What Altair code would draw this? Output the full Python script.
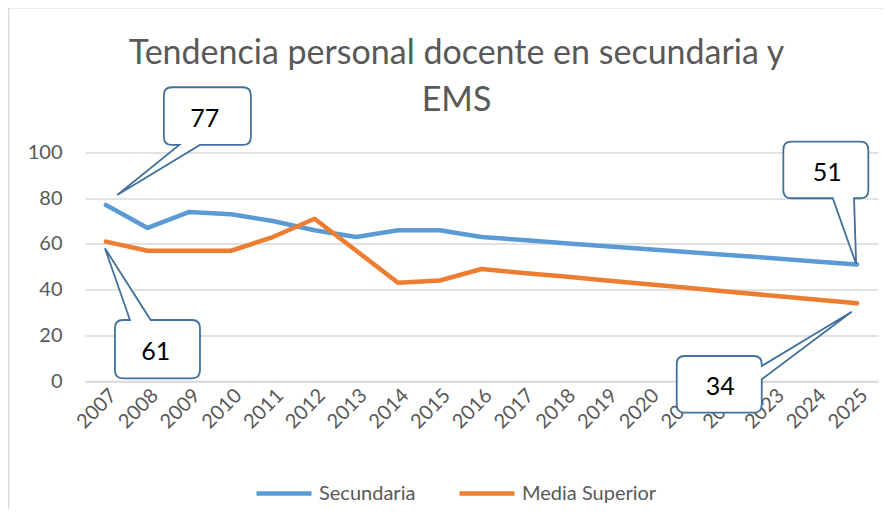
import altair as alt
import pandas as pd

# ---- data ----
years = [str(y) for y in range(2007, 2026)]
secundaria = [77, 67, 74, 73, 70, 66, 63, 66, 66, 63, 61.7, 60.3, 59, 57.7, 56.3, 55, 53.7, 52.3, 51]
media_superior = [61, 57, 57, 57, 63, 71, 57, 43, 44, 49, 47.3, 45.7, 44, 42.3, 40.7, 39, 37.3, 35.7, 34]
series_names = ["Secundaria", "Media Superior"]
series_colors = ["#5B9BD5", "#ED7D31"]

callout_series = ["Secundaria", "Media Superior", "Secundaria", "Media Superior"]
callout_years = ["2007", "2007", "2025", "2025"]
callout_labels = ["77", "61", "51", "34"]

TITLE = ["Tendencia personal docente en secundaria y", "EMS"]

# ---- styling ----
FONT = "Lato"
GRAY = "#595959"
GRID = "#d9d9d9"
CALLOUT_STROKE = "#41719C"
W, H = 793, 228.5

df = pd.DataFrame({
    "year": years * 2,
    "value": secundaria + media_superior,
    "serie": [series_names[0]] * len(years) + [series_names[1]] * len(years),
})

x_enc = alt.X("year:O", scale=alt.Scale(type="point", padding=0.5),
              axis=alt.Axis(title=None, labelAngle=-45, labelFontSize=20, labelColor=GRAY,
                            labelFont=FONT, ticks=False, domainColor=GRID, domainWidth=1.5,
                            labelPadding=4, grid=False))
y_enc = alt.Y("value:Q", scale=alt.Scale(domain=[0, 100], nice=False),
              axis=alt.Axis(title=None, values=[0, 20, 40, 60, 80, 100], labelFontSize=20,
                            labelColor=GRAY, labelFont=FONT, ticks=False, domain=False,
                            gridColor=GRID, gridWidth=1.5, labelPadding=23))

lines = alt.Chart(df).mark_line(strokeWidth=4.5, strokeCap="round", strokeJoin="round").encode(
    x=x_enc, y=y_enc,
    color=alt.Color("serie:N", scale=alt.Scale(domain=series_names, range=series_colors),
                    sort=series_names,
                    legend=alt.Legend(title=None, orient="none", legendX=169, legendY=311,
                                      direction="horizontal", symbolType="stroke",
                                      symbolSize=3025, symbolStrokeWidth=4.5,
                                      labelFontSize=20, labelColor=GRAY, labelFont=FONT,
                                      labelOffset=5, columnPadding=34, padding=0)),
)


def callout_path(box, edge, base, tip, r=8):
    x0, y0, x1, y1 = box
    def p(x, y):
        return f"{x:.1f},{y:.1f}"
    s = [f"M{p(x0 + r, y0)}"]
    if edge == "top":
        s += [f"L{p(base[0], y0)}", f"L{p(*tip)}", f"L{p(base[1], y0)}"]
    s += [f"L{p(x1 - r, y0)}", f"Q{p(x1, y0)} {p(x1, y0 + r)}"]
    if edge == "right":
        s += [f"L{p(x1, base[0])}", f"L{p(*tip)}", f"L{p(x1, base[1])}"]
    s += [f"L{p(x1, y1 - r)}", f"Q{p(x1, y1)} {p(x1 - r, y1)}"]
    if edge == "bottom":
        s += [f"L{p(base[1], y1)}", f"L{p(*tip)}", f"L{p(base[0], y1)}"]
    s += [f"L{p(x0 + r, y1)}", f"Q{p(x0, y1)} {p(x0, y1 - r)}",
          f"L{p(x0, y0 + r)}", f"Q{p(x0, y0)} {p(x0 + r, y0)}", "Z"]
    return " ".join(s)


# callout geometry relative to the data point (pixels)
callout_geom = [
    dict(box=(58, -117.8, 145, -60.1), edge="bottom", base=(73.4, 94.1), tip=(11.4, -10.1), text=(99, -86)),
    dict(box=(9.1, 78.4, 94.1, 136.7), edge="top", base=(24.1, 44.8), tip=(-0.9, 6.7), text=(50, 110)),
    dict(box=(-73.8, -122.8, 11.2, -66.2), edge="bottom", base=(-24.4, -3.1), tip=(-1, -0.5), text=(-30, -91)),
    dict(box=(-180.4, 52.7, -95.4, 109.4), edge="right", base=(62.7, 76), tip=(-5.4, 8.4), text=(-137, 84)),
]

values_by_series = dict(zip(series_names, [secundaria, media_superior]))
layers = [lines]
for s, yr, lab, g in zip(callout_series, callout_years, callout_labels, callout_geom):
    v = values_by_series[s][years.index(yr)]
    row = pd.DataFrame({"year": [yr], "value": [v], "label": [lab]})
    path = callout_path(g["box"], g["edge"], g["base"], g["tip"])
    shape = alt.Chart(row).mark_point(shape=path, size=4, filled=True, fill="white",
                                      stroke=CALLOUT_STROKE, strokeWidth=1.8, opacity=1,
                                      fillOpacity=1, strokeOpacity=1).encode(
        x=alt.X("year:O"), y=alt.Y("value:Q"))
    txt = alt.Chart(row).mark_text(fontSize=25, font=FONT, color="black", baseline="middle",
                                   align="center", dx=g["text"][0], dy=g["text"][1]).encode(
        x=alt.X("year:O"), y=alt.Y("value:Q"), text="label:N")
    layers += [shape, txt]

border_top = alt.Chart(pd.DataFrame({"k": [0]})).mark_rule(color=GRID, strokeWidth=2).encode(
    x=alt.value(-76.7), x2=alt.value(900), y=alt.value(-145))
border_left = alt.Chart(pd.DataFrame({"k": [0]})).mark_rule(color=GRID, strokeWidth=2).encode(
    x=alt.value(-76.7), y=alt.value(-145), y2=alt.value(500))

chart = alt.layer(border_top, border_left, *layers).properties(
    width=W, height=H,
    title=alt.TitleParams(TITLE, anchor="middle", fontSize=34, font=FONT, fontWeight="normal",
                          color=GRAY, dx=-25, dy=111, offset=0, lineHeight=47),
    padding={"left": 77, "top": 144.5, "right": 6, "bottom": 128},
    autosize="none",
    background="white",
).configure_view(stroke=None)

chart.save("out.html", embed_options={"renderer": "svg", "actions": False})
